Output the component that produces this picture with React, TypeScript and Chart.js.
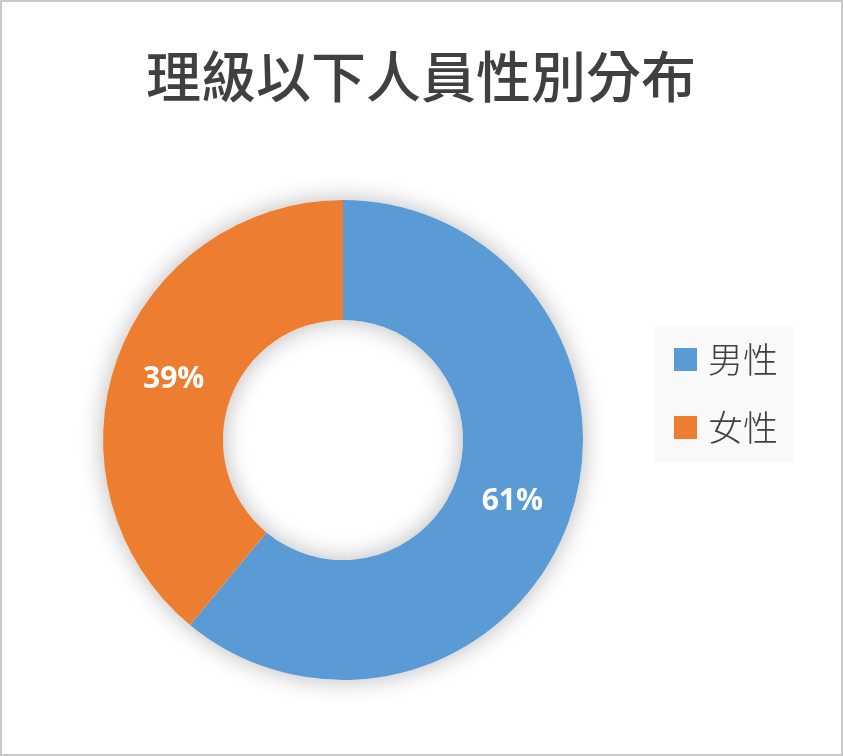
import { useEffect, useRef } from "react";
import { Chart, ArcElement, DoughnutController } from "chart.js";

Chart.register(ArcElement, DoughnutController);

const chartTitle = "理級以下人員性別分布";
const labels = ["男性", "女性"];
const shares = [61, 39];
const colors = ["#5B9BD5", "#ED7D31"];

const W = 839;
const H = 752;
const cjk = '"Noto Sans CJK TC", "Noto Sans CJK SC", sans-serif';

// soft shadow under the ring, drawn once so slices don't shade each other
const ringShadow = {
  id: "ringShadow",
  beforeDatasetsDraw(chart: any) {
    const arc = chart.getDatasetMeta(0).data[0];
    if (!arc) return;
    const { x, y, outerRadius, innerRadius } = arc.getProps(["x", "y", "outerRadius", "innerRadius"], true);
    const ctx = chart.ctx;
    ctx.save();
    ctx.shadowColor = "rgba(0,0,0,0.28)";
    ctx.shadowBlur = 24;
    ctx.beginPath();
    ctx.arc(x, y, outerRadius, 0, Math.PI * 2);
    ctx.arc(x, y, innerRadius, 0, Math.PI * 2, true);
    ctx.fillStyle = "#ffffff";
    ctx.fill();
    ctx.restore();
  },
};

const sliceLabels = {
  id: "sliceLabels",
  afterDatasetsDraw(chart: any) {
    const ctx = chart.ctx;
    const values = chart.data.datasets[0].data;
    ctx.save();
    ctx.fillStyle = "#ffffff";
    ctx.font = 'bold 30px "Open Sans", sans-serif';
    ctx.textAlign = "center";
    ctx.textBaseline = "middle";
    chart.getDatasetMeta(0).data.forEach((arc: any, i: number) => {
      const p = arc.tooltipPosition(true);
      ctx.fillText(values[i] + "%", p.x, p.y);
    });
    ctx.restore();
  },
};

const titleAndLegend = {
  id: "titleAndLegend",
  afterDraw(chart: any) {
    const ctx = chart.ctx;
    ctx.save();
    ctx.fillStyle = "#404040";
    ctx.font = `500 55px ${cjk}`;
    ctx.textAlign = "center";
    ctx.textBaseline = "middle";
    ctx.fillText(chartTitle, 419, 74);

    ctx.fillStyle = "#f9f9f9";
    ctx.fillRect(653, 324, 139, 137);
    ctx.textAlign = "left";
    ctx.font = `300 35px ${cjk}`;
    const ds = chart.data.datasets[0];
    chart.data.labels.forEach((lab: string, i: number) => {
      const top = 346 + i * 68;
      ctx.fillStyle = ds.backgroundColor[i];
      ctx.fillRect(672, top, 23, 23);
      ctx.fillStyle = "#404040";
      ctx.fillText(lab, 706, top + 12);
    });
    ctx.restore();
  },
};

export default function App() {
  const ref = useRef<HTMLCanvasElement>(null);

  useEffect(() => {
    document.body.style.margin = "0";
    if (!ref.current) return;
    const chart = new Chart(ref.current, {
      type: "doughnut",
      data: {
        labels,
        datasets: [
          {
            data: shares,
            backgroundColor: colors,
            borderWidth: 0,
          },
        ],
      },
      options: {
        responsive: false,
        animation: false,
        radius: 240,
        cutout: "50%",
        layout: { padding: { left: 101, right: 258, top: 198, bottom: 74 } },
        plugins: { legend: { display: false }, tooltip: { enabled: false } },
      },
      plugins: [ringShadow, sliceLabels, titleAndLegend],
    });
    return () => chart.destroy();
  }, []);

  return (
    <div
      style={{
        width: 843,
        height: 756,
        boxSizing: "border-box",
        border: "2px solid #c8c8c8",
        background: "#fff",
      }}
    >
      <canvas ref={ref} width={W} height={H} style={{ display: "block", width: W, height: H }}></canvas>
    </div>
  );
}
